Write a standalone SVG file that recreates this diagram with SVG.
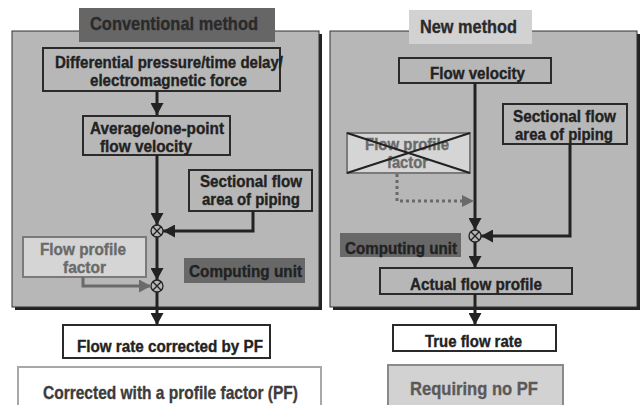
<svg xmlns="http://www.w3.org/2000/svg" width="640" height="405" viewBox="0 0 640 405">
  <style>
    text { font-family: "Liberation Sans", Arial, sans-serif; font-weight: bold; text-anchor: middle; }
    .lbl { font-size: 16px; fill: #222; stroke: #222; stroke-width: 0.35; }
    .ttl { font-size: 19px; fill: #2a2a2a; stroke: #2a2a2a; stroke-width: 0.35; }
    .faint { font-size: 16px; fill: #6a6a6a; stroke: #6a6a6a; stroke-width: 0.35; }
    .cap { font-size: 19px; }
    .panel { fill: #b7b7b7; stroke: #333; stroke-width: 1; }
    .shadow { fill: #222; }
    .box { fill: none; stroke: #2a2a2a; stroke-width: 2; }
    .wbox { fill: #fff; stroke: #2a2a2a; stroke-width: 2; }
    .pf { fill: #d5d5d5; stroke: #7a7a7a; stroke-width: 2; }
    .cu { fill: #686868; }
    .wire { fill: none; stroke: #222; stroke-width: 3; }
    .gwire { fill: none; stroke: #6a6a6a; stroke-width: 3; }
    .mult { fill: none; stroke: #222; stroke-width: 1.3; }
  </style>
  <defs>
    <marker id="ah" markerUnits="userSpaceOnUse" markerWidth="13" markerHeight="13" refX="12" refY="6.5" orient="auto">
      <path d="M0,0 L12,6.5 L0,13 z" fill="#222"/>
    </marker>
    <marker id="ahg" markerUnits="userSpaceOnUse" markerWidth="13" markerHeight="13" refX="12" refY="6.5" orient="auto">
      <path d="M0,0 L12,6.5 L0,13 z" fill="#6a6a6a"/>
    </marker>
  </defs>

  <!-- Panels with drop shadows -->
  <g id="panel-conventional">
    <rect class="shadow" x="15" y="34" width="307" height="276"/>
    <rect class="panel" x="12" y="31" width="307" height="276"/>
    <rect x="79" y="8" width="196" height="34" fill="#666"/>
    <text class="ttl" x="174" y="30" textLength="168" lengthAdjust="spacingAndGlyphs">Conventional method</text>
  </g>
  <g id="panel-new">
    <rect class="shadow" x="333" y="34" width="307" height="276"/>
    <rect class="panel" x="330" y="31" width="307" height="276"/>
    <rect x="409" y="10" width="123" height="34" fill="#d2d2d2"/>
    <text class="ttl" x="468.5" y="33" textLength="97" lengthAdjust="spacingAndGlyphs">New method</text>
  </g>

  <!-- Conventional method nodes -->
  <g id="sensing">
    <rect class="box" x="43" y="48" width="237" height="43"/>
    <text class="lbl" x="169" y="68" textLength="228" lengthAdjust="spacingAndGlyphs">Differential pressure/time delay/</text>
    <text class="lbl" x="168.5" y="86" textLength="157" lengthAdjust="spacingAndGlyphs">electromagnetic force</text>
  </g>
  <g id="avg-velocity">
    <rect class="box" x="83" y="116" width="147" height="39"/>
    <text class="lbl" x="157" y="134" textLength="134" lengthAdjust="spacingAndGlyphs">Average/one-point</text>
    <text class="lbl" x="146" y="152" textLength="92" lengthAdjust="spacingAndGlyphs">flow velocity</text>
  </g>
  <g id="area-left">
    <rect class="box" x="189" y="170" width="123" height="41"/>
    <text class="lbl" x="251" y="187" textLength="102" lengthAdjust="spacingAndGlyphs">Sectional flow</text>
    <text class="lbl" x="251" y="205" textLength="98" lengthAdjust="spacingAndGlyphs">area of piping</text>
  </g>
  <g id="pf-left">
    <rect class="pf" x="23" y="237" width="123" height="40"/>
    <text class="faint" x="83" y="255" textLength="86" lengthAdjust="spacingAndGlyphs">Flow profile</text>
    <text class="faint" x="84.5" y="273" textLength="43" lengthAdjust="spacingAndGlyphs">factor</text>
  </g>
  <g id="cu-left">
    <rect class="cu" x="184" y="258" width="121" height="25"/>
    <text class="lbl" x="245.5" y="277" textLength="113" lengthAdjust="spacingAndGlyphs">Computing unit</text>
  </g>
  <g id="mult-left-1">
    <circle class="mult" cx="157" cy="231" r="6"/>
    <path class="mult" d="M152.8,226.8 L161.2,235.2 M161.2,226.8 L152.8,235.2"/>
  </g>
  <g id="mult-left-2">
    <circle class="mult" cx="157" cy="286" r="6"/>
    <path class="mult" d="M152.8,281.8 L161.2,290.2 M161.2,281.8 L152.8,290.2"/>
  </g>
  <g id="rate-pf">
    <rect class="wbox" x="63" y="325" width="207" height="33"/>
    <text class="lbl" x="170" y="352" textLength="186" lengthAdjust="spacingAndGlyphs">Flow rate corrected by PF</text>
  </g>
  <g id="caption-left">
    <rect x="18" y="367" width="303" height="45" fill="#fff" stroke="#a8a8a8" stroke-width="2"/>
    <text class="cap" x="170.5" y="399" fill="#3c3c3c" stroke="#3c3c3c" stroke-width="0.35" textLength="255" lengthAdjust="spacingAndGlyphs">Corrected with a profile factor (PF)</text>
  </g>

  <!-- New method nodes -->
  <g id="velocity">
    <rect class="box" x="399" y="58" width="152" height="25"/>
    <text class="lbl" x="477.5" y="79" textLength="95" lengthAdjust="spacingAndGlyphs">Flow velocity</text>
  </g>
  <g id="area-right">
    <rect class="box" x="503" y="104" width="124" height="40"/>
    <text class="lbl" x="564.5" y="122" textLength="103" lengthAdjust="spacingAndGlyphs">Sectional flow</text>
    <text class="lbl" x="564" y="140" textLength="98" lengthAdjust="spacingAndGlyphs">area of piping</text>
  </g>
  <g id="pf-right">
    <rect class="pf" x="347" y="133" width="123" height="40"/>
    <text class="faint" x="407" y="150" textLength="84" lengthAdjust="spacingAndGlyphs">Flow profile</text>
    <text class="faint" x="407.5" y="168" textLength="41" lengthAdjust="spacingAndGlyphs">factor</text>
    <path d="M347,133 L470,173 M470,133 L347,173" stroke="#222" stroke-width="2" fill="none"/>
  </g>
  <g id="cu-right">
    <rect class="cu" x="340" y="233" width="121" height="24"/>
    <text class="lbl" x="401" y="254" textLength="112" lengthAdjust="spacingAndGlyphs">Computing unit</text>
  </g>
  <g id="mult-right">
    <circle class="mult" cx="475" cy="236" r="6"/>
    <path class="mult" d="M470.8,231.8 L479.2,240.2 M479.2,231.8 L470.8,240.2"/>
  </g>
  <g id="actual-profile">
    <rect class="box" x="380" y="268" width="192" height="26"/>
    <text class="lbl" x="476" y="290" textLength="132" lengthAdjust="spacingAndGlyphs">Actual flow profile</text>
  </g>
  <g id="true-rate">
    <rect class="wbox" x="393" y="325" width="163" height="26"/>
    <text class="lbl" x="473.5" y="347" textLength="97" lengthAdjust="spacingAndGlyphs">True flow rate</text>
  </g>
  <g id="caption-right">
    <rect x="388" y="365" width="175" height="47" fill="#d2d2d2" stroke="#8a8a8a" stroke-width="2"/>
    <text class="cap" x="474" y="395" fill="#5a5a5a" stroke="#5a5a5a" stroke-width="0.35" textLength="128" lengthAdjust="spacingAndGlyphs">Requiring no PF</text>
  </g>

  <!-- Connectors -->
  <g id="connectors">
    <path class="wire" d="M157,91 V115" marker-end="url(#ah)"/>
    <path class="wire" d="M157,155 V225" marker-end="url(#ah)"/>
    <path class="wire" d="M253,211 V231 H163" marker-end="url(#ah)"/>
    <path class="wire" d="M157,237 V280" marker-end="url(#ah)"/>
    <path class="gwire" d="M83,277 V286 H151" marker-end="url(#ahg)"/>
    <path class="wire" d="M157,292 V325" marker-end="url(#ah)"/>

    <path class="wire" d="M475,83 V230" marker-end="url(#ah)"/>
    <path class="gwire" d="M397,174 V201 H463" stroke-dasharray="3,3"/>
    <path d="M462,195 L474,201 L462,207 z" fill="#6a6a6a"/>
    <path class="wire" d="M570,144 V236 H481" marker-end="url(#ah)"/>
    <path class="wire" d="M475,242 V268" marker-end="url(#ah)"/>
    <path class="wire" d="M475,294 V325" marker-end="url(#ah)"/>
  </g>
</svg>
